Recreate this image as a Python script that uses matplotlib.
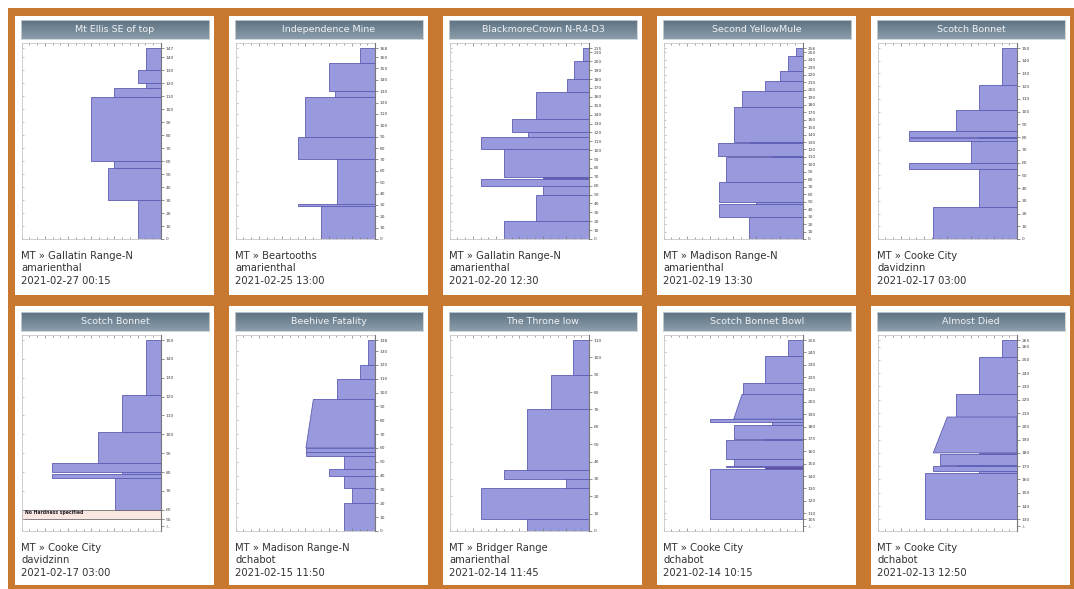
import numpy as np
import matplotlib
matplotlib.use('Agg')
import matplotlib.pyplot as plt
from matplotlib.patches import Rectangle
from matplotlib.colors import LinearSegmentedColormap

W, H = 1074, 589

titles = ['Mt Ellis SE of top', 'Independence Mine', 'BlackmoreCrown N-R4-D3',
          'Second YellowMule', 'Scotch Bonnet', 'Scotch Bonnet', 'Beehive Fatality',
          'The Throne low', 'Scotch Bonnet Bowl', 'Almost Died']
regions = ['MT \u00bb Gallatin Range-N', 'MT \u00bb Beartooths', 'MT \u00bb Gallatin Range-N',
           'MT \u00bb Madison Range-N', 'MT \u00bb Cooke City', 'MT \u00bb Cooke City',
           'MT \u00bb Madison Range-N', 'MT \u00bb Bridger Range', 'MT \u00bb Cooke City',
           'MT \u00bb Cooke City']
users = ['amarienthal', 'amarienthal', 'amarienthal', 'amarienthal', 'davidzinn',
         'davidzinn', 'dchabot', 'amarienthal', 'dchabot', 'dchabot']
dates = ['2021-02-27 00:15', '2021-02-25 13:00', '2021-02-20 12:30', '2021-02-19 13:30',
         '2021-02-17 03:00', '2021-02-17 03:00', '2021-02-15 11:50', '2021-02-14 11:45',
         '2021-02-14 10:15', '2021-02-13 12:50']

# layer boundaries (cm, top to bottom) and hand hardness per layer (0 = right axis)
p1_bounds = [147, 130, 120, 116, 109, 60, 55, 30, 0]
p1_hard = [0.65, 1.0, 0.65, 2.0, 3.0, 2.0, 2.3, 1.0]

p2_bounds = [168, 155, 130, 125, 90, 70, 31, 29, 0]
p2_hard = [0.65, 2.0, 1.7, 3.0, 3.33, 1.65, 3.33, 2.33]

p3_bounds = [215, 200, 180, 165, 135, 120, 115, 101, 70, 69, 67.5, 60, 50, 20, 0]
p3_hard = [0.27, 0.65, 0.95, 2.3, 3.33, 2.63, 4.65, 3.65, 2.0, 2.0, 4.65, 2.0, 2.3, 3.65]

p4_bounds = [256, 245, 225, 212, 198, 177, 130, 129, 111, 110, 77, 50, 47, 30, 0]
p4_hard = [0.32, 0.65, 0.98, 1.65, 2.63, 2.97, 2.32, 3.66, 1.32, 3.33, 3.63, 2.0, 3.63, 2.32]

p5_bounds = [150, 121, 101, 85, 80, 79, 77, 60, 55, 25, 0]
p5_hard = [0.65, 1.62, 2.62, 4.63, 1.65, 4.63, 1.98, 4.63, 1.62, 3.63]

p6_bounds = [150, 121, 101, 85, 80, 79, 77, 60]
p6_hard = [0.65, 1.67, 2.69, 4.7, 1.67, 4.7, 1.99]
p6_nohard = (60, 55)

p7_bounds = [138, 120, 110, 95, 60, 57, 54, 45, 40, 31, 20, 0]
p7_hard = [0.32, 0.65, 1.65, 2.65, 2.97, 2.97, 1.32, 1.98, 1.32, 0.98, 1.32]
p7_hard_bot = [0.32, 0.65, 1.65, 2.97, 2.97, 2.97, 1.32, 1.98, 1.32, 0.98, 1.32]

p8_bounds = [110, 90, 70, 35, 30, 25, 7, 0]
p8_hard = [0.67, 1.65, 2.65, 3.66, 0.98, 4.66, 2.65]

p9_bounds = [250, 237, 215, 206, 186, 184, 181, 170, 169, 154, 148, 147, 145.5, 105]
p9_hard = [0.65, 1.65, 2.6, 2.62, 3.98, 1.32, 2.98, 1.65, 3.33, 2.98, 3.33, 1.65, 3.98]
p9_hard_bot = [0.65, 1.65, 2.6, 2.98, 3.98, 1.32, 2.98, 1.65, 3.33, 2.98, 3.33, 1.65, 3.98]

p10_bounds = [265, 252, 224.5, 207, 180, 179, 171, 170, 166, 165, 130]
p10_hard = [0.64, 1.64, 2.64, 3.0, 1.64, 3.31, 2.6, 3.6, 1.64, 3.96]
p10_hard_bot = [0.64, 1.64, 2.64, 3.6, 1.64, 3.31, 2.6, 3.6, 1.64, 3.96]

panels = [
    dict(bounds=p1_bounds, hard=p1_hard),
    dict(bounds=p2_bounds, hard=p2_hard),
    dict(bounds=p3_bounds, hard=p3_hard, dark={8: '#9a4c78'}),
    dict(bounds=p4_bounds, hard=p4_hard),
    dict(bounds=p5_bounds, hard=p5_hard),
    dict(bounds=p6_bounds, hard=p6_hard, nohard=p6_nohard, base=55),
    dict(bounds=p7_bounds, hard=p7_hard, hard_bot=p7_hard_bot),
    dict(bounds=p8_bounds, hard=p8_hard),
    dict(bounds=p9_bounds, hard=p9_hard, hard_bot=p9_hard_bot, base=105, dark={11: '#6a4c9c'}),
    dict(bounds=p10_bounds, hard=p10_hard, hard_bot=p10_hard_bot, base=130),
]

orange = '#c8782f'
fill = '#9999dd'
edge = '#5c5cb2'
bar_cmap = LinearSegmentedColormap.from_list('bar', ['#5d7283', '#8c9daa'])


def box(x, y, w, h):
    return [x / W, 1 - (y + h) / H, w / W, h / H]


fig = plt.figure(figsize=(W / 100, H / 100), dpi=100)
fig.add_artist(Rectangle((8 / W, 0), 1, 1 - 8 / H, transform=fig.transFigure,
                         fc=orange, ec='none', zorder=-3))

col_x = [15, 229, 443, 657, 871]
row_white = [16, 306]
row_y = [16, 308]
grad = np.linspace(0, 1, 40).reshape(-1, 1)

for i, p in enumerate(panels):
    r, c = divmod(i, 5)
    x0, y0 = col_x[c], row_y[r]
    fig.add_artist(Rectangle((x0 / W, 1 - (row_white[r] + 279) / H), 199 / W, 279 / H,
                             transform=fig.transFigure, fc='white', ec='none', zorder=-2))

    # title bar
    tax = fig.add_axes(box(x0 + 6, y0 + 4, 188, 19))
    tax.imshow(grad, aspect='auto', cmap=bar_cmap, extent=(0, 1, 0, 1))
    tax.set_xticks([])
    tax.set_yticks([])
    for s in tax.spines.values():
        s.set_color('#c9d2d8')
        s.set_linewidth(0.6)
    tax.text(0.5, 0.5, titles[i], color='#eef2f5', fontsize=6.8,
             ha='center', va='center', transform=tax.transAxes)

    # profile
    bounds, hard = p['bounds'], p['hard']
    hard_bot = p.get('hard_bot', hard)
    top = bounds[0]
    base = p.get('base')
    if base is None:
        s = top / 191.0
        ylim = (0, top + 5 * s)
        ticks = list(range(0, top, 10)) + [top]
    else:
        s = (top - base) / 179.3
        ylim = (base - 11.7 * s, top + 5 * s)
        ticks = sorted(set([base] + list(range(int(np.ceil(base / 10.0)) * 10, top, 10)) + [top]))

    ax = fig.add_axes(box(x0 + 6.5, y0 + 27, 139.5, 196))
    dark = p.get('dark', {})
    for k in range(len(hard)):
        yt, yb = bounds[k], bounds[k + 1]
        ax.fill([0, hard_bot[k], hard[k], 0], [yb, yb, yt, yt],
                fc=dark.get(k, fill), ec=edge, lw=0.6)
    if 'nohard' in p:
        a, b = p['nohard']
        ax.fill([6, 0, 0, 6], [b, b, a, a], fc='#fbe7e2', ec='#555555', lw=0.5)
        ax.text(5.85, a - 0.3 * (a - b), 'No Hardness specified', fontsize=3.3,
                fontweight='bold', va='center', ha='left', color='#222222')

    ax.set_xlim(6, 0)
    ax.set_ylim(*ylim)
    ax.set_xticks(np.arange(0, 7, 1))
    ax.set_xticks(np.arange(0, 6, 1 / 3.0), minor=True)
    ax.set_yticks(ticks)
    ax.tick_params(axis='x', which='both', top=True, bottom=True, direction='in',
                   labelbottom=False, color='#777777', width=0.5)
    ax.tick_params(axis='x', which='major', length=2.5)
    ax.tick_params(axis='x', which='minor', length=1.2)
    ax.tick_params(axis='y', left=True, right=False, labelleft=False, direction='in',
                   length=1.5, width=0.5, color='#aaaaaa')
    for side in ['left', 'top', 'bottom']:
        ax.spines[side].set_color('#c8c8c8')
        ax.spines[side].set_linewidth(0.6)
    ax.spines['right'].set_visible(False)

    ax2 = ax.twinx()
    ax2.set_ylim(*ylim)
    yt_lab = [str(t) for t in ticks]
    if base is not None:
        ticks = [base - 6.7 * s] + ticks
        yt_lab = ['-/-'] + yt_lab
    ax2.set_yticks(ticks)
    ax2.set_yticklabels(yt_lab)
    ax2.tick_params(axis='y', direction='out', length=1.8, width=0.5, color='#666666',
                    labelsize=3.2, labelcolor='#444444', pad=1.5)
    for side in ['left', 'top', 'bottom']:
        ax2.spines[side].set_visible(False)
    ax2.spines['right'].set_color('#777777')
    ax2.spines['right'].set_linewidth(0.8)

    # caption lines
    for j, txt in enumerate([regions[i], users[i], dates[i]]):
        fig.text((x0 + 6) / W, 1 - (y0 + 240 + 12.3 * j) / H, txt, fontsize=7.2,
                 color='#333333', ha='left', va='center')

fig.savefig('out.png', dpi=100)
